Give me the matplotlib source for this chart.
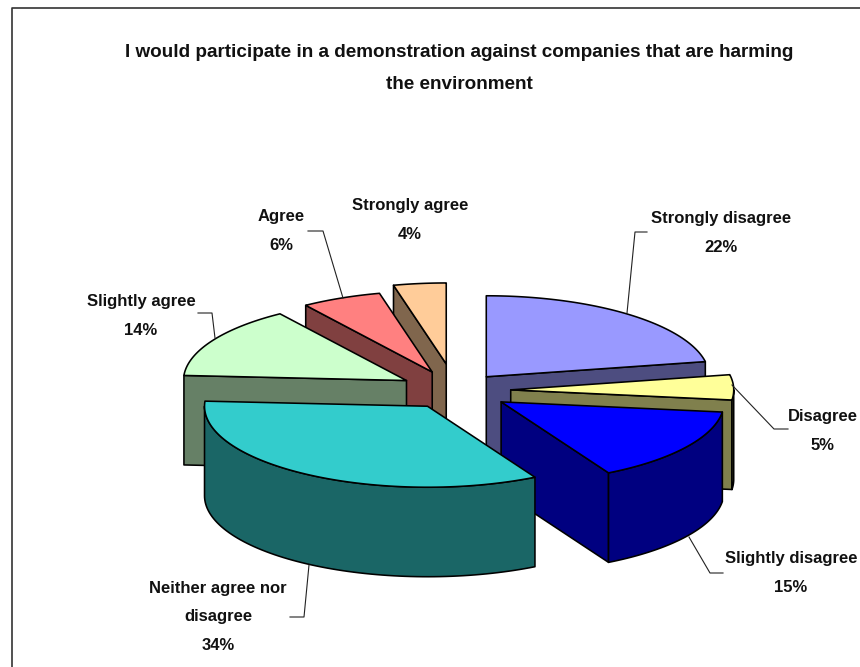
"""Exploded 3D-look pie: environment demonstration survey answers."""

import matplotlib

matplotlib.use("Agg")

import matplotlib.pyplot as plt
import numpy as np
from matplotlib.colors import to_rgb
from matplotlib.patches import Polygon

plt.rcParams["font.family"] = ["Liberation Sans", "DejaVu Sans"]

TITLE = "I would participate in a demonstration against companies that are harming\nthe environment"
categories = [
    "Strongly disagree",
    "Disagree",
    "Slightly disagree",
    "Neither agree nor\ndisagree",
    "Slightly agree",
    "Agree",
    "Strongly agree",
]
values = [22.0, 5.0, 15.0, 34.0, 14.4, 5.8, 3.8]
colors = ["#9999FF", "#FFFF99", "#0000FF", "#33CCCC", "#CCFFCC", "#FF8080", "#FFCC99"]

# layout, in pixels of the 860x667 canvas
CENTER = (455.0, 390.5)
RX, RY, DEPTH = 223.0, 81.0, 89.5
explode = [0.22, 0.25, 0.25, 0.23, 0.25, 0.25, 0.33]
draw_order = [6, 5, 4, 0, 1, 2, 3]
label_pos = [(721, 233), (823, 431), (791, 573), (218, 617), (141, 316), (281, 231), (410, 220)]
leaders = [
    [(627, 313), (635, 232), (647, 232)],
    [(732, 385), (774, 429), (788, 429)],
    [(689, 537), (710, 573), (723, 573)],
    [(309, 565), (304, 617), (290, 617)],
    [(215, 338), (212, 313), (198, 313)],
    [(343, 298), (323, 231), (308, 231)],
]


def rim(apex, a, b, n=80):
    t = np.radians(np.linspace(a, b, n))
    return np.column_stack([apex[0] + RX * np.sin(t), apex[1] - RY * np.cos(t)])


def face(ax, pts, color):
    ax.add_patch(Polygon(pts, closed=True, facecolor=color, edgecolor="black", linewidth=1.15, joinstyle="round"))


def extrude(pts):
    return np.vstack([pts, pts[::-1] + [0, DEPTH]])


fig = plt.figure(figsize=(8.6, 6.67), dpi=100)
ax = fig.add_axes([0, 0, 1, 1])
ax.set_xlim(0, 860)
ax.set_ylim(667, 0)
ax.axis("off")

# chart frame, cropped on the right and at the bottom
ax.plot([12, 12, 860], [667, 8, 8], color="#333333", linewidth=1.2)

edges = np.cumsum([0.0, *values]) / sum(values) * 360
for i in draw_order:
    a, b = edges[i], edges[i + 1]
    mid = np.radians((a + b) / 2)
    apex = np.array(
        [
            CENTER[0] + explode[i] * RX * np.sin(mid),
            CENTER[1] - explode[i] * RY * np.cos(mid),
        ]
    )
    dark = tuple(c / 2 for c in to_rgb(colors[i]))
    # walls facing the viewer: radial sides, then the curved part of the rim
    if np.sin(np.radians(a)) < 0:
        face(ax, extrude(np.array([apex, rim(apex, a, a, 1)[0]])), dark)
    if np.sin(np.radians(b)) > 0:
        face(ax, extrude(np.array([apex, rim(apex, b, b, 1)[0]])), dark)
    lo, hi = max(a, 90), min(b, 270)
    if lo < hi:
        face(ax, extrude(rim(apex, lo, hi)), dark)
    face(ax, np.vstack([apex, rim(apex, a, b)]), colors[i])

for pts in leaders:
    xs, ys = zip(*pts)
    ax.plot(xs, ys, color="#222222", linewidth=0.8)

for name, v, (x, y) in zip(categories, values, label_pos, strict=True):
    ax.text(
        x, y, f"{name}\n{v:.0f}%", ha="center", va="center", fontsize=12.0,
        fontweight="bold", linespacing=2.1, color="#111111",
    )

ax.text(459, 68.5, TITLE, ha="center", va="center", fontsize=13.6, fontweight="bold", linespacing=2.15, color="#111111")

fig.savefig("out.png", dpi=100)
plt.close(fig)
